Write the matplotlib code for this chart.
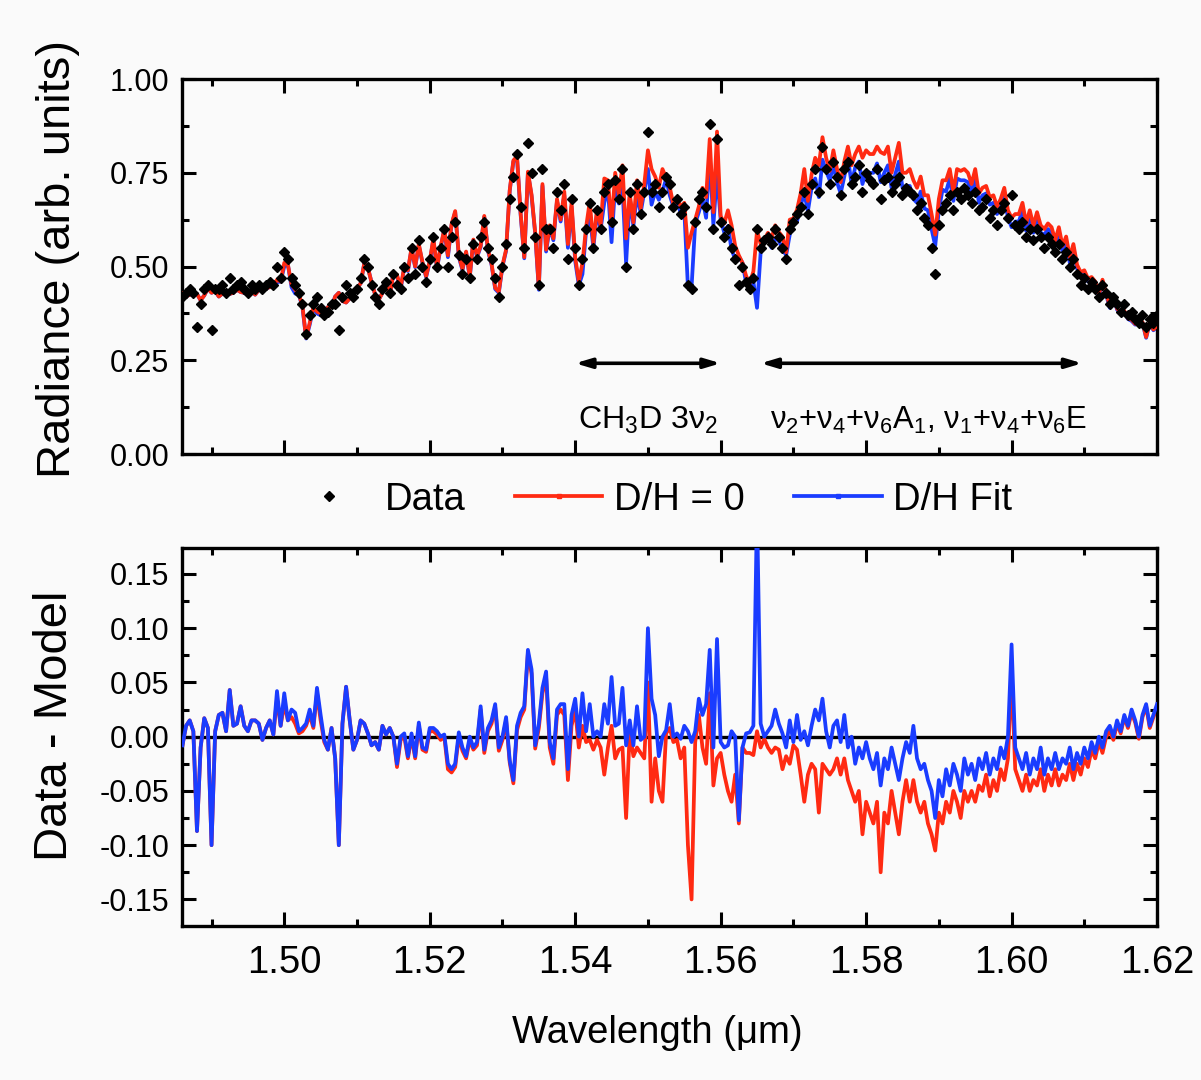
import numpy as np
import matplotlib
matplotlib.use("Agg")
import matplotlib.pyplot as plt
from matplotlib.ticker import MultipleLocator, FormatStrFormatter
from matplotlib.lines import Line2D
from matplotlib import font_manager as fm

plt.rcParams['font.family'] = ['Liberation Sans', 'DejaVu Sans']
plt.rcParams['mathtext.fontset'] = 'custom'
plt.rcParams['mathtext.rm'] = 'Liberation Sans'
plt.rcParams['mathtext.it'] = 'Liberation Sans:italic'
plt.rcParams['axes.unicode_minus'] = False

_names = {f.name for f in fm.fontManager.ttflist}
if 'Liberation Sans Narrow' in _names:
    NARROW, NSCALE = 'Liberation Sans Narrow', 1.0
else:
    NARROW, NSCALE = 'Liberation Sans', 0.86

# ---------------- data ----------------
wl_start = 1.486      # first sample (micron)
wl_step = 0.0005      # sample spacing (micron)

radiance = [
    0.42, 0.43, 0.44, 0.43, 0.34, 0.40, 0.44, 0.45, 0.33, 0.44,
    0.44, 0.45, 0.43, 0.47, 0.44, 0.45, 0.46, 0.44, 0.43, 0.45,
    0.44, 0.45, 0.44, 0.45, 0.46, 0.45, 0.50, 0.47, 0.54, 0.52,
    0.47, 0.45, 0.43, 0.40, 0.32, 0.37, 0.40, 0.42, 0.39, 0.37,
    0.38, 0.40, 0.40, 0.33, 0.42, 0.45, 0.43, 0.42, 0.44, 0.47,
    0.52, 0.50, 0.45, 0.42, 0.40, 0.44, 0.46, 0.43, 0.48, 0.45,
    0.44, 0.50, 0.47, 0.55, 0.48, 0.57, 0.50, 0.46, 0.52, 0.58,
    0.50, 0.55, 0.60, 0.50, 0.58, 0.62, 0.53, 0.48, 0.52, 0.47,
    0.56, 0.52, 0.58, 0.62, 0.55, 0.52, 0.47, 0.42, 0.50, 0.56,
    0.68, 0.74, 0.80, 0.66, 0.55, 0.83, 0.75, 0.58, 0.45, 0.76,
    0.60, 0.60, 0.55, 0.70, 0.65, 0.72, 0.52, 0.68, 0.55, 0.45,
    0.52, 0.60, 0.67, 0.55, 0.65, 0.60, 0.70, 0.72, 0.62, 0.73,
    0.68, 0.76, 0.50, 0.70, 0.60, 0.72, 0.64, 0.70, 0.86, 0.70,
    0.72, 0.66, 0.70, 0.74, 0.72, 0.66, 0.68, 0.64, 0.66, 0.45,
    0.44, 0.62, 0.68, 0.70, 0.66, 0.88, 0.60, 0.84, 0.62, 0.58,
    0.60, 0.55, 0.52, 0.45, 0.50, 0.46, 0.44, 0.47, 0.60, 0.55,
    0.57, 0.58, 0.56, 0.60, 0.58, 0.55, 0.52, 0.60, 0.62, 0.64,
    0.66, 0.70, 0.64, 0.72, 0.76, 0.70, 0.82, 0.76, 0.72, 0.78,
    0.74, 0.69, 0.76, 0.78, 0.72, 0.74, 0.77, 0.70, 0.75, 0.73,
    0.72, 0.76, 0.68, 0.73, 0.74, 0.70, 0.72, 0.74, 0.69, 0.71,
    0.70, 0.69, 0.65, 0.67, 0.63, 0.61, 0.55, 0.48, 0.61, 0.65,
    0.67, 0.69, 0.65, 0.70, 0.68, 0.71, 0.69, 0.67, 0.70, 0.65,
    0.66, 0.68, 0.63, 0.65, 0.61, 0.65, 0.67, 0.63, 0.69, 0.61,
    0.60, 0.62, 0.58, 0.60, 0.57, 0.60, 0.58, 0.55, 0.58, 0.56,
    0.54, 0.56, 0.52, 0.54, 0.50, 0.52, 0.48, 0.45, 0.47, 0.44,
    0.46, 0.44, 0.42, 0.45, 0.43, 0.40, 0.42, 0.40, 0.38, 0.40,
    0.37, 0.38, 0.36, 0.35, 0.37, 0.34, 0.36, 0.35, 0.37,
]

# Data - Model for the D/H = 0 model
resid_dh0 = [
    -0.008, 0.010, 0.015, 0.005, -0.087, -0.010, 0.017, 0.008, -0.100, 0.005,
    0.020, 0.022, 0.005, 0.043, 0.010, 0.012, 0.028, 0.010, 0.005, 0.015,
    0.015, 0.012, -0.003, 0.008, 0.015, 0.002, 0.035, 0.010, 0.030, 0.015,
    0.018, 0.012, 0.003, 0.005, 0.010, 0.020, 0.008, 0.040, 0.015, -0.005,
    -0.012, 0.008, -0.020, -0.100, 0.012, 0.046, 0.015, -0.012, -0.003, 0.015,
    0.012, 0.003, -0.008, -0.005, -0.012, 0.010, 0.002, 0.008, 0.000, -0.028,
    -0.003, 0.000, -0.020, 0.000, -0.020, 0.010, -0.012, -0.014, 0.005, 0.005,
    0.002, -0.003, 0.000, -0.030, -0.033, -0.028, 0.000, -0.013, -0.020, -0.003,
    -0.012, -0.008, 0.025, -0.015, 0.005, 0.012, 0.027, -0.013, -0.003, 0.015,
    -0.024, -0.043, 0.006, 0.018, 0.025, 0.077, 0.058, -0.011, 0.008, 0.040,
    0.055, -0.010, -0.025, 0.020, 0.025, 0.020, -0.040, 0.010, 0.025, -0.010,
    0.010, -0.005, -0.003, -0.012, -0.003, -0.010, -0.035, -0.010, 0.010, -0.020,
    -0.012, -0.010, -0.075, 0.005, -0.018, -0.010, -0.015, -0.020, 0.050, -0.060,
    -0.020, -0.050, -0.060, 0.003, 0.008, -0.005, -0.003, -0.020, -0.010, -0.100,
    -0.150, -0.005, 0.020, -0.010, -0.025, 0.040, -0.045, -0.020, -0.015, -0.035,
    -0.050, -0.060, -0.035, -0.080, -0.010, -0.015, -0.015, -0.017, 0.005, -0.010,
    -0.002, -0.010, -0.015, -0.010, -0.012, -0.030, -0.018, -0.025, -0.008, -0.012,
    -0.035, -0.060, -0.035, -0.025, -0.030, -0.070, -0.025, -0.030, -0.035, -0.030,
    -0.020, -0.035, -0.020, -0.040, -0.050, -0.060, -0.050, -0.090, -0.060, -0.070,
    -0.080, -0.060, -0.125, -0.070, -0.080, -0.050, -0.070, -0.090, -0.060, -0.040,
    -0.060, -0.040, -0.060, -0.070, -0.060, -0.080, -0.090, -0.105, -0.070, -0.080,
    -0.060, -0.070, -0.050, -0.060, -0.075, -0.050, -0.060, -0.050, -0.060, -0.045,
    -0.050, -0.035, -0.055, -0.040, -0.050, -0.030, -0.040, -0.020, 0.060, -0.030,
    -0.040, -0.050, -0.035, -0.050, -0.040, -0.045, -0.030, -0.050, -0.035, -0.045,
    -0.030, -0.045, -0.035, -0.040, -0.025, -0.040, -0.025, -0.035, -0.020, -0.028,
    -0.012, -0.020, -0.005, -0.015, 0.000, 0.005, -0.003, 0.012, 0.003, 0.018,
    0.008, 0.022, 0.013, -0.002, 0.018, 0.028, 0.008, 0.018, 0.028,
]

# Data - Model for the D/H fit
resid_fit = [
    -0.008, 0.010, 0.015, 0.005, -0.087, -0.010, 0.017, 0.008, -0.100, 0.005,
    0.020, 0.022, 0.005, 0.043, 0.010, 0.012, 0.028, 0.010, 0.005, 0.015,
    0.015, 0.012, -0.003, 0.008, 0.015, 0.002, 0.042, 0.010, 0.040, 0.015,
    0.025, 0.022, 0.005, 0.008, 0.012, 0.025, 0.010, 0.045, 0.020, -0.003,
    -0.012, 0.008, -0.020, -0.100, 0.012, 0.046, 0.015, -0.012, -0.003, 0.015,
    0.012, 0.003, -0.008, -0.005, -0.012, 0.010, 0.002, 0.008, 0.000, -0.025,
    0.000, 0.003, -0.018, 0.003, -0.018, 0.013, -0.010, -0.012, 0.008, 0.008,
    0.005, 0.000, 0.002, -0.025, -0.030, -0.025, 0.004, -0.010, -0.018, 0.000,
    -0.010, -0.005, 0.028, -0.012, 0.008, 0.015, 0.030, -0.010, 0.000, 0.018,
    -0.022, -0.040, 0.010, 0.022, 0.028, 0.080, 0.062, -0.008, 0.012, 0.045,
    0.060, -0.005, -0.020, 0.025, 0.030, 0.030, -0.030, 0.020, 0.035, 0.000,
    0.040, 0.005, 0.030, 0.000, 0.005, 0.000, 0.030, 0.012, 0.055, 0.010,
    0.012, 0.045, -0.008, 0.015, -0.008, 0.028, -0.003, 0.000, 0.100, 0.035,
    0.020, -0.018, 0.000, 0.006, 0.030, 0.000, 0.003, -0.002, 0.010, 0.005,
    -0.005, 0.005, 0.035, 0.020, 0.030, 0.080, -0.010, 0.090, -0.005, -0.010,
    -0.008, 0.005, 0.000, -0.077, -0.010, 0.003, 0.004, 0.010, 0.210, 0.012,
    0.000, 0.005, 0.010, 0.025, 0.012, 0.003, -0.010, 0.015, -0.005, 0.020,
    -0.003, 0.005, -0.008, 0.010, 0.025, 0.015, 0.035, 0.005, -0.010, 0.010,
    0.015, -0.005, 0.020, -0.010, 0.000, -0.025, -0.010, -0.020, -0.005, -0.020,
    -0.030, -0.015, -0.045, -0.020, -0.030, -0.010, -0.025, -0.040, -0.020, -0.005,
    -0.015, 0.010, -0.020, -0.030, -0.025, -0.040, -0.050, -0.075, -0.040, -0.055,
    -0.030, -0.045, -0.025, -0.035, -0.050, -0.020, -0.035, -0.025, -0.040, -0.020,
    -0.030, -0.015, -0.035, -0.020, -0.030, -0.010, -0.020, 0.000, 0.085, -0.010,
    -0.020, -0.030, -0.015, -0.035, -0.020, -0.030, -0.010, -0.035, -0.020, -0.030,
    -0.015, -0.030, -0.020, -0.025, -0.010, -0.030, -0.015, -0.025, -0.010, -0.020,
    -0.005, -0.015, 0.000, -0.010, 0.005, 0.010, 0.000, 0.015, 0.005, 0.020,
    0.010, 0.025, 0.015, 0.000, 0.020, 0.030, 0.010, 0.020, 0.030,
]

legend_labels = ['Data', 'D/H = 0', 'D/H Fit']

# ---------------- derived ----------------
radiance = np.array(radiance)
resid_dh0 = np.array(resid_dh0)
resid_fit = np.array(resid_fit)
wl = wl_start + wl_step * np.arange(len(radiance))
model_dh0 = radiance - resid_dh0
model_fit = radiance - resid_fit

BG = '#fafafa'
RED = '#ff2a12'
BLUE = '#1a3cff'
LW = 2.7
MS = 5.2

fig = plt.figure(figsize=(12.01, 10.80), dpi=100, facecolor=BG)
ax1 = fig.add_axes([0.1513, 0.5796, 0.8121, 0.3472])
ax2 = fig.add_axes([0.1513, 0.1429, 0.8121, 0.3494])

for ax in (ax1, ax2):
    ax.set_facecolor(BG)
    ax.set_xlim(1.4859, 1.62)
    ax.xaxis.set_major_locator(MultipleLocator(0.02))
    ax.xaxis.set_minor_locator(MultipleLocator(0.01))
    ax.xaxis.set_major_formatter(FormatStrFormatter('%.2f'))
    ax.yaxis.set_major_formatter(FormatStrFormatter('%.2f'))
    ax.tick_params(which='both', direction='in', top=True, right=True,
                   width=2.2, color='k')
    ax.tick_params(which='major', length=10)
    ax.tick_params(which='minor', length=5.3)
    ax.tick_params(axis='y', which='major', labelsize=22, pad=9)
    ax.tick_params(axis='x', which='major', labelsize=32 * NSCALE, pad=14)
    for s in ax.spines.values():
        s.set_linewidth(2.4)
    for lab in ax.get_xticklabels():
        lab.set_fontfamily(NARROW)

# top panel
ax1.plot(wl, model_fit, color=BLUE, lw=LW, zorder=2)
ax1.plot(wl, model_dh0, color=RED, lw=LW, zorder=3)
ax1.plot(wl, radiance, linestyle='none', marker='D', ms=MS, color='k', zorder=4)
ax1.set_ylim(0, 1.0)
ax1.yaxis.set_major_locator(MultipleLocator(0.25))
ax1.yaxis.set_minor_locator(MultipleLocator(0.125))
ax1.tick_params(axis='x', labelbottom=False)
ax1.set_ylabel('Radiance (arb. units)', fontsize=34, va='center')
ax1.yaxis.set_label_coords(-0.127, 0.52)

# band annotations
ax1.annotate('', xy=(1.5600, 0.242), xytext=(1.5400, 0.242),
             arrowprops=dict(arrowstyle='<|-|>,head_length=0.6,head_width=0.18',
                             color='k', lw=2.6, mutation_scale=16,
                             shrinkA=0, shrinkB=0))
ax1.annotate('', xy=(1.6097, 0.242), xytext=(1.5655, 0.242),
             arrowprops=dict(arrowstyle='<|-|>,head_length=0.6,head_width=0.18',
                             color='k', lw=2.6, mutation_scale=16,
                             shrinkA=0, shrinkB=0))
ax1.text(1.5500, 0.067, r'CH$_3$D 3ν$_2$', ha='center', va='baseline',
         fontsize=27 * NSCALE, family=NARROW)
ax1.text(1.5886, 0.067, r'ν$_2$+ν$_4$+ν$_6$A$_1$, ν$_1$+ν$_4$+ν$_6$E',
         ha='center', va='baseline', fontsize=26 * NSCALE, family=NARROW)

# bottom panel
ax2.axhline(0, color='k', lw=2.4, zorder=1)
ax2.plot(wl, resid_dh0, color=RED, lw=LW, zorder=2)
ax2.plot(wl, resid_fit, color=BLUE, lw=LW, zorder=3)
ax2.set_ylim(-0.1742, 0.1736)
ax2.yaxis.set_major_locator(MultipleLocator(0.05))
ax2.yaxis.set_minor_locator(MultipleLocator(0.025))
ax2.set_ylabel('Data - Model', fontsize=34, va='center')
ax2.yaxis.set_label_coords(-0.130, 0.529)

fig.text(657 / 1201, 1 - 1033 / 1080, 'Wavelength (μm)', ha='center', va='center',
         fontsize=32 * NSCALE, family=NARROW)

handles = [
    Line2D([], [], linestyle='none', marker='D', ms=MS, color='k'),
    Line2D([], [], color=RED, lw=LW, marker='s', ms=3),
    Line2D([], [], color=BLUE, lw=LW, marker='s', ms=3),
]
fig.legend(handles, legend_labels, loc='center', bbox_to_anchor=(0.5404, 0.5375),
           ncol=3, frameon=False, numpoints=1, handlelength=2.28,
           handletextpad=0.31, columnspacing=1.3,
           prop={'family': NARROW, 'size': 32 * NSCALE})

fig.savefig('out.png', dpi=100, facecolor=BG)
